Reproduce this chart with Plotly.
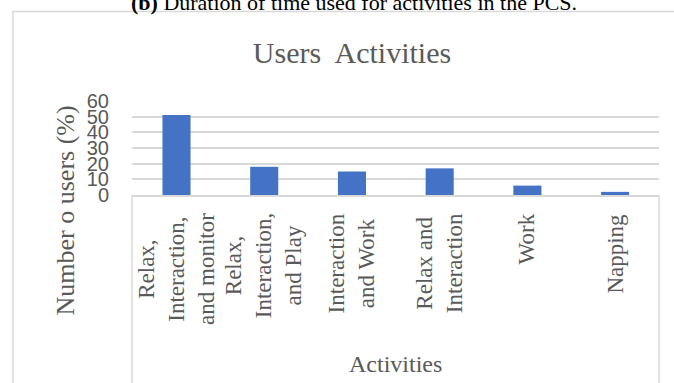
import plotly.graph_objects as go

# ---- data ----
categories = [
    "Relax,<br>Interaction,<br>and monitor",
    "Relax,<br>Interaction,<br>and Play",
    "Interaction<br>and Work",
    "Relax and<br>Interaction",
    "Work",
    "Napping",
]
values = [51, 18, 15, 17, 6, 2]
y_ticks = [0, 10, 20, 30, 40, 50, 60]

title_text = "Users  Activities"
y_title = "Number o users (%)"
x_title = "Activities"
caption = "<b>(b)</b> Duration of time used for activities in the PCS."

# ---- layout geometry (pixels) ----
W, H = 674, 383
L, R = 132, 659
T, B = 101, 194.6
pw, ph = R - L, B - T


def px(x):
    return (x - L) / pw


def py(y):
    return (B - y) / ph


GRAY_TXT = "#595959"
GRID = "#d9d9d9"
SERIF = "Liberation Serif, Times New Roman, serif"

fig = go.Figure()
fig.add_trace(go.Bar(x=categories, y=values, marker_color="#4472C4",
                     marker_line_width=0))

annotations = []
for c in categories:
    annotations.append(dict(
        x=c, xref="x", y=py(211), yref="paper", text=c, showarrow=False,
        textangle=-90, xanchor="center", yanchor="top", align="center",
        font=dict(family=SERIF, size=23, color=GRAY_TXT)))

annotations += [
    dict(x=px(65), y=py(210), xref="paper", yref="paper", text=y_title,
         showarrow=False, textangle=-90, xanchor="center", yanchor="middle",
         font=dict(family=SERIF, size=26, color=GRAY_TXT)),
    dict(x=0.5, y=py(363), xref="paper", yref="paper", text=x_title,
         showarrow=False, xanchor="center", yanchor="middle",
         font=dict(family=SERIF, size=24, color=GRAY_TXT)),
    dict(x=px(354), y=py(17), xref="paper", yref="paper", text=caption,
         showarrow=False, xanchor="center", yanchor="bottom",
         font=dict(family=SERIF, size=22, color="black")),
]

shapes = [
    # outer chart border
    dict(type="rect", xref="paper", yref="paper", x0=px(13), x1=px(700),
         y0=py(12), y1=py(420), line=dict(color=GRID, width=1.5),
         fillcolor="rgba(0,0,0,0)", layer="below"),
    # category box verticals
    dict(type="line", xref="paper", yref="paper", x0=0, x1=0, y0=0,
         y1=py(420), line=dict(color=GRID, width=1.5)),
    dict(type="line", xref="paper", yref="paper", x0=1, x1=1, y0=0,
         y1=py(420), line=dict(color=GRID, width=1.5)),
]

fig.update_layout(
    width=W, height=H,
    margin=dict(l=L, r=W - R, t=T, b=H - B, pad=0),
    paper_bgcolor="white", plot_bgcolor="white",
    bargap=0.68,
    showlegend=False,
    title=dict(text=title_text, x=352 / W, xref="container", xanchor="center",
               y=1 - 52 / H, yref="container", yanchor="middle",
               font=dict(family=SERIF, size=30, color=GRAY_TXT)),
    xaxis=dict(showticklabels=False, showgrid=False, zeroline=False,
               showline=True, linecolor=GRID, linewidth=1.5, ticks=""),
    yaxis=dict(range=[0, 60], tickvals=y_ticks, ticktext=[str(v) for v in y_ticks],
               showgrid=True, gridcolor=GRID, gridwidth=1.5, zeroline=False,
               showline=False, ticks="", ticklabelstandoff=22,
               tickfont=dict(family="Liberation Sans, Arial, sans-serif",
                             size=20, color=GRAY_TXT)),
    annotations=annotations,
    shapes=shapes,
)

fig.write_html("out.html")
